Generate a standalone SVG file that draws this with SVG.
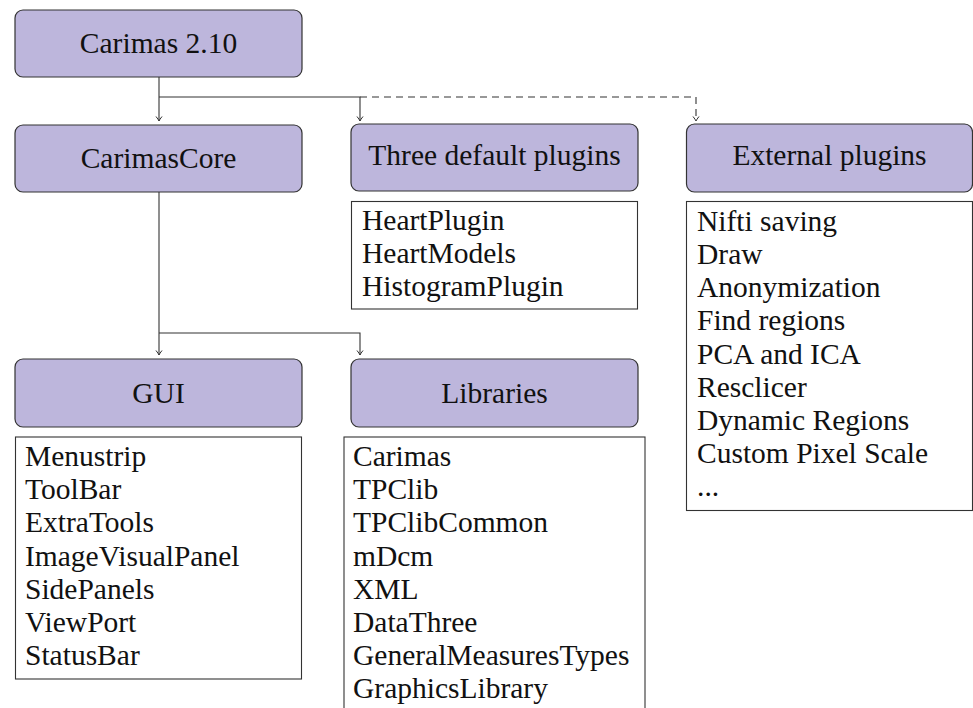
<svg xmlns="http://www.w3.org/2000/svg" width="973" height="708" viewBox="0 0 973 708" font-family="'Liberation Serif', 'DejaVu Serif', serif">
<style>
.hdr{fill:#bdb6dc;stroke:#333;stroke-width:1.2}
.lst{fill:#fff;stroke:#333;stroke-width:1.1}
text{font-family:'Liberation Serif','DejaVu Serif',serif;font-size:29.5px;fill:#111}
.c{text-anchor:middle}
.conn path{fill:none;stroke:#333;stroke-width:1.1}
.dash{stroke-dasharray:7 5}
</style>
<defs>
<marker id="ar" markerUnits="userSpaceOnUse" markerWidth="12" markerHeight="12" viewBox="-6 -6 12 12" refX="0" refY="0" orient="auto">
<path d="M-4.5,-3 Q-1.5,-0.6 0,0 Q-1.5,0.6 -4.5,3" fill="none" stroke="#333" stroke-width="1"/>
</marker>
</defs>
<g id="connectors" class="conn">
<path d="M159,77 V121" marker-end="url(#ar)"/>
<path d="M159,97 H360 V121" marker-end="url(#ar)"/>
<path class="dash" d="M360,97 H696 V121" marker-end="url(#ar)"/>
<path d="M159,192 V355" marker-end="url(#ar)"/>
<path d="M159,333 H360 V355" marker-end="url(#ar)"/>
</g>
<g id="carimas210">
<rect class="hdr" x="15" y="10" width="287" height="67" rx="8"/>
<text class="c" x="158.5" y="53">Carimas 2.10</text>
</g>
<g id="carimascore">
<rect class="hdr" x="15" y="125" width="287" height="67" rx="8"/>
<text class="c" x="158.5" y="168">CarimasCore</text>
</g>
<g id="defaultplugins">
<rect class="hdr" x="351" y="124" width="287" height="67" rx="8"/>
<text class="c" x="494.5" y="164.5">Three default plugins</text>
<rect class="lst" x="351.5" y="201.5" width="286" height="107.5"/>
<text x="362" y="230">HeartPlugin</text>
<text x="362" y="263">HeartModels</text>
<text x="362" y="296">HistogramPlugin</text>
</g>
<g id="externalplugins">
<rect class="hdr" x="686.5" y="124" width="286" height="68" rx="8"/>
<text class="c" x="829.5" y="165">External plugins</text>
<rect class="lst" x="686.5" y="201.5" width="286" height="309"/>
<text x="697" y="230.7">Nifti saving</text>
<text x="697" y="263.9">Draw</text>
<text x="697" y="297.1">Anonymization</text>
<text x="697" y="330.3">Find regions</text>
<text x="697" y="363.5">PCA and ICA</text>
<text x="697" y="396.7">Resclicer</text>
<text x="697" y="429.9">Dynamic Regions</text>
<text x="697" y="463.1">Custom Pixel Scale</text>
<text x="697" y="496.3">...</text>
</g>
<g id="gui">
<rect class="hdr" x="15" y="359" width="287" height="68" rx="8"/>
<text class="c" x="158.5" y="402.5">GUI</text>
<rect class="lst" x="15.5" y="437" width="286" height="242"/>
<text x="25" y="466">Menustrip</text>
<text x="25" y="499.2">ToolBar</text>
<text x="25" y="532.4">ExtraTools</text>
<text x="25" y="565.6">ImageVisualPanel</text>
<text x="25" y="598.8">SidePanels</text>
<text x="25" y="632">ViewPort</text>
<text x="25" y="665.2">StatusBar</text>
</g>
<g id="libraries">
<rect class="hdr" x="351" y="359" width="287" height="68" rx="8"/>
<text class="c" x="494.5" y="402.5">Libraries</text>
<rect class="lst" x="344" y="437" width="301" height="290"/>
<text x="353" y="466">Carimas</text>
<text x="353" y="499.2">TPClib</text>
<text x="353" y="532.4">TPClibCommon</text>
<text x="353" y="565.6">mDcm</text>
<text x="353" y="598.8">XML</text>
<text x="353" y="632">DataThree</text>
<text x="353" y="665.2">GeneralMeasuresTypes</text>
<text x="353" y="698.4">GraphicsLibrary</text>
</g>
</svg>
